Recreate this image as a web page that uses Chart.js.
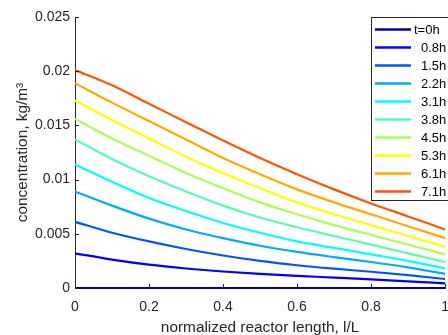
<!DOCTYPE html>
<html><head><meta charset="utf-8">
<script src="https://cdn.jsdelivr.net/npm/chart.js@4/dist/chart.umd.min.js"></script>
<style>html,body{margin:0;padding:0;overflow:hidden;background:#fff}#wrap{position:relative;width:460px;height:335px}</style>
</head><body><div id="wrap"><canvas id="c"></canvas></div>
<script>
// normalized reactor length l/L
const positions = [0, 0.1, 0.2, 0.3, 0.4, 0.5, 0.6, 0.7, 0.8, 0.9, 1.0];
const seriesLabels = ['t=0h', '0.8h', '1.5h', '2.2h', '3.1h', '3.8h', '4.5h', '5.3h', '6.1h', '7.1h'];
// concentration, kg/m3
const conc_t0h  = [0, 0, 0, 0, 0, 0, 0, 0, 0, 0, 0];
const conc_t08h = [0.0032, 0.00262, 0.00215, 0.00180, 0.00152, 0.00130, 0.00112, 0.00096, 0.00080, 0.00062, 0.00043];
const conc_t15h = [0.0061, 0.0051, 0.0043, 0.0036, 0.0030, 0.0025, 0.0021, 0.00178, 0.00150, 0.00118, 0.00083];
const conc_t22h = [0.0089, 0.0076, 0.0064, 0.0054, 0.0046, 0.0039, 0.00333, 0.00285, 0.00240, 0.00190, 0.00130];
const conc_t31h = [0.0114, 0.0098, 0.0083, 0.0071, 0.0060, 0.0051, 0.0043, 0.0037, 0.0031, 0.0025, 0.0018];
const conc_t38h = [0.0137, 0.0119, 0.0103, 0.0089, 0.0076, 0.0065, 0.0056, 0.0048, 0.0040, 0.0032, 0.0024];
const conc_t45h = [0.0156, 0.0138, 0.0122, 0.0106, 0.0092, 0.0079, 0.0068, 0.0058, 0.0049, 0.0040, 0.0031];
const conc_t53h = [0.0173, 0.0155, 0.0138, 0.0121, 0.0106, 0.0092, 0.0079, 0.0068, 0.0058, 0.0048, 0.0038];
const conc_t61h = [0.0189, 0.0171, 0.0154, 0.0137, 0.0120, 0.0105, 0.0091, 0.0079, 0.0068, 0.0057, 0.0046];
const conc_t71h = [0.0201, 0.0187, 0.0170, 0.0153, 0.0136, 0.0120, 0.0105, 0.0091, 0.0078, 0.0066, 0.0054];
const yTicks = [0, 0.005, 0.01, 0.015, 0.02, 0.025];
const xTicks = [0, 0.2, 0.4, 0.6, 0.8, 1];
const yTickLabels = ['0', '0.005', '0.01', '0.015', '0.02', '0.025'];
const xTickLabels = ['0', '0.2', '0.4', '0.6', '0.8', '1'];

const allSeries = [conc_t0h, conc_t08h, conc_t15h, conc_t22h, conc_t31h, conc_t38h, conc_t45h, conc_t53h, conc_t61h, conc_t71h];
const colors = ['#0000AA', '#0000FF', '#0055FF', '#00AAFF', '#00FFFF', '#55FFAA', '#AAFF55', '#FFFF00', '#FFAA00', '#FF5500'];
const AX = '#262626';
const FONT = '"Liberation Sans", Arial, sans-serif';

const datasets = allSeries.map((arr, i) => ({
  label: seriesLabels[i],
  data: positions.map((x, j) => ({x: x, y: arr[j]})),
  borderColor: colors[i],
  backgroundColor: colors[i],
  borderWidth: 2.2,
  pointRadius: 0,
  cubicInterpolationMode: 'monotone',
  clip: false
}));

const innerTicks = {
  id: 'innerTicks',
  afterDraw(chart) {
    const ctx = chart.ctx, xs = chart.scales.x, ys = chart.scales.y, a = chart.chartArea;
    ctx.save();
    ctx.strokeStyle = AX; ctx.lineWidth = 1;
    ctx.beginPath();
    yTicks.forEach(v => { const p = Math.round(ys.getPixelForValue(v)) + 0.5; ctx.moveTo(a.left, p); ctx.lineTo(a.left + 4, p); });
    xTicks.forEach(v => { const p = Math.round(xs.getPixelForValue(v)) + 0.5; ctx.moveTo(p, a.bottom); ctx.lineTo(p, a.bottom - 4); });
    ctx.stroke();
    // legend box
    const lx = 371.5, ly = 17.5, lw = 100, lh = 183;
    ctx.fillStyle = '#fff';
    ctx.fillRect(lx, ly, lw, lh);
    ctx.strokeStyle = AX;
    ctx.strokeRect(lx, ly, lw, lh);
    ctx.font = '13px ' + FONT;
    ctx.textBaseline = 'middle';
    ctx.textAlign = 'left';
    chart.data.datasets.forEach((ds, i) => {
      const y = 29.5 + i * 18;
      ctx.strokeStyle = ds.borderColor; ctx.lineWidth = 2.5;
      ctx.beginPath(); ctx.moveTo(375, y); ctx.lineTo(411, y); ctx.stroke();
      ctx.fillStyle = '#000';
      ctx.fillText(ds.label, i === 0 ? 414 : 421, y + 0.5);
    });
    ctx.restore();
  }
};

new Chart(document.getElementById('c'), {
  type: 'line',
  data: { datasets },
  options: {
    responsive: true, maintainAspectRatio: false, animation: false,
    layout: { padding: { top: 17, right: 10, left: 0, bottom: -2 } },
    plugins: { legend: { display: false }, tooltip: { enabled: false } },
    scales: {
      x: {
        type: 'linear', min: 0, max: 1,
        afterBuildTicks: s => { s.ticks = xTicks.map(v => ({value: v})); },
        afterFit: s => { s.height = 49; },
        grid: { display: true, drawOnChartArea: false, drawTicks: false },
        border: { display: true, color: AX, width: 1 },
        ticks: { color: AX, font: { family: FONT, size: 14 }, padding: 11, maxRotation: 0,
          callback: (v, i) => xTickLabels[i] },
        title: { display: true, text: 'normalized reactor length, l/L', color: AX,
          font: { family: FONT, size: 15.4 }, padding: { top: 0, bottom: 0 } }
      },
      y: {
        min: 0, max: 0.025,
        afterBuildTicks: s => { s.ticks = yTicks.map(v => ({value: v})); },
        afterFit: s => { s.width = 75; },
        grid: { display: true, drawOnChartArea: false, drawTicks: false },
        border: { display: true, color: AX, width: 1 },
        ticks: { color: AX, font: { family: FONT, size: 14 }, padding: 5,
          callback: (v, i) => yTickLabels[i] },
        title: { display: true, text: 'concentration, kg/m³', color: AX,
          font: { family: FONT, size: 15.4 }, padding: { top: 14, bottom: 0 } }
      }
    }
  },
  plugins: [innerTicks]
});
</script>
</body></html>
